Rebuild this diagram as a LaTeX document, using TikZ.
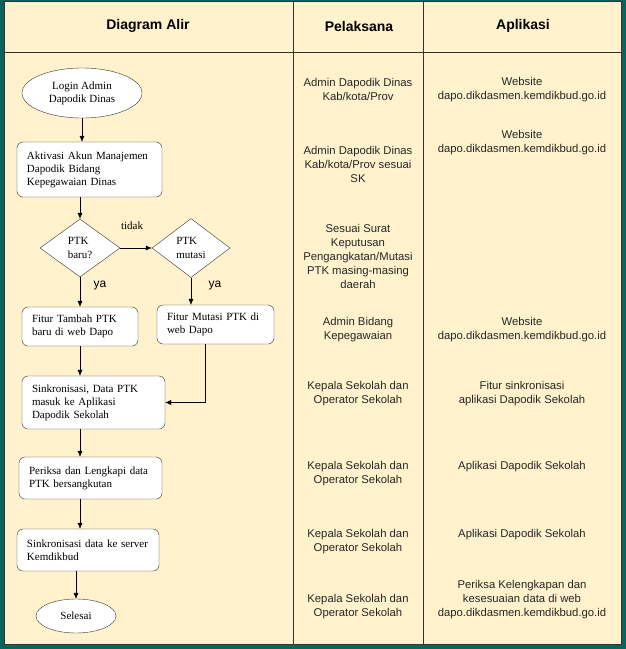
\documentclass[tikz,border=0pt]{standalone}
\usepackage{fontspec}
\setmainfont{Liberation Serif}
\setsansfont{Liberation Sans}
\usetikzlibrary{arrows, arrows.meta, shapes, positioning}

\definecolor{bingkai}{RGB}{14,98,92}
\definecolor{krem}{RGB}{255,242,204}

\begin{document}
\begin{tikzpicture}[x=1pt, y=-1pt,
    >={Latex[length=6pt,width=5pt]},
    proses/.style={draw=black!80, fill=white, rounded corners=6pt, align=left,
      inner xsep=10pt, inner ysep=3pt, font=\fontsize{11}{13}\selectfont},
    mulai/.style={ellipse, draw=black!80, fill=white, align=center, inner sep=0pt,
      font=\fontsize{11}{13}\selectfont},
    keputusan/.style={diamond, draw=black!80, fill=white, align=left, inner sep=0pt,
      font=\fontsize{11}{14}\selectfont},
    catatan/.style={font=\fontsize{11}{13}\selectfont},
    jawab/.style={font=\sffamily\fontsize{12}{14}\selectfont},
    judul/.style={font=\sffamily\bfseries\fontsize{14}{16}\selectfont},
    isi/.style={align=center, text=black!85, font=\sffamily\fontsize{11.3}{14}\selectfont},
    garis/.style={draw=black!80, line width=1pt}]

      % Table
      \useasboundingbox (0,0) rectangle (626,649);
      \fill[bingkai] (0,0) rectangle (626,649);
      \draw[garis, fill=krem] (4,1) rectangle (621,644);
      \draw[garis] (4,52) -- (621,52);
      \draw[garis] (293,1) -- (293,644);
      \draw[garis] (423,1) -- (423,644);

      % Header
      \node[judul] (hdiagram) at (148,26) {Diagram Alir};
      \node[judul] (hpelaksana) at (359,26) {Pelaksana};
      \node[judul] (haplikasi) at (523,26) {Aplikasi};

      % Nodes
      \node[mulai, minimum width=120pt, minimum height=50pt] (login) at (82,93) {Login Admin\\Dapodik Dinas};
      \node[proses, text width=125pt, minimum height=55pt] (aktivasi) at (89.5,169.5) {Aktivasi Akun Manajemen\\Dapodik Bidang\\Kepegawaian Dinas};
      \node[keputusan, minimum width=80pt, minimum height=58pt] (baru) at (80,248) {PTK\\baru?};
      \node[keputusan, minimum width=78pt, minimum height=59pt] (mutasi) at (191,248) {PTK\\mutasi};
      \node[proses, text width=96pt, minimum height=39pt] (tambah) at (80,326.5) {Fitur Tambah PTK\\baru di web Dapo};
      \node[proses, text width=97pt, minimum height=39pt] (fmutasi) at (215.5,324.5) {Fitur Mutasi PTK di\\web Dapo};
      \node[proses, text width=123pt, minimum height=53pt] (sinkron) at (93.5,402.5) {Sinkronisasi, Data PTK\\masuk ke Aplikasi\\Dapodik Sekolah};
      \node[proses, text width=123pt, minimum height=42pt] (periksa) at (90.5,478) {Periksa dan Lengkapi data\\PTK bersangkutan};
      \node[proses, text width=122pt, minimum height=42pt] (server) at (88,550) {Sinkronisasi data ke server\\Kemdikbud};
      \node[mulai, minimum width=80pt, minimum height=34pt] (selesai) at (76,616) {Selesai};

      \node[catatan] (tidak) at (132,226) {tidak};
      \node[jawab] (ya1) at (100,286) {ya};
      \node[jawab] (ya2) at (215,286) {ya};

      % Edges
      \draw[->] (login.south) -- (login.south |- aktivasi.north);
      \draw[->] (aktivasi.south -| baru) -- (baru.north);
      \draw[->] (baru.east) -- (mutasi.west);
      \draw[->] (baru.south) -- (baru.south |- tambah.north);
      \draw[->] (mutasi.south) -- (mutasi.south |- fmutasi.north);
      \draw[->] (tambah.south) -- (tambah.south |- sinkron.north);
      \draw[->] ([xshift=-10pt]fmutasi.south) |- (sinkron.east);
      \draw[->] (sinkron.south -| tambah) -- (periksa.north -| tambah);
      \draw[->] (periksa.south -| tambah) -- (server.north -| tambah);
      \draw[->] (server.south -| selesai) -- (selesai.north);

      % Pelaksana
      \node[isi] (p1) at (358,89.5) {Admin Dapodik Dinas\\Kab/kota/Prov};
      \node[isi] (p2) at (358,164) {Admin Dapodik Dinas\\Kab/kota/Prov sesuai\\SK};
      \node[isi] (p3) at (358,256.5) {Sesuai Surat\\Keputusan\\Pengangkatan/Mutasi\\PTK masing-masing\\daerah};
      \node[isi] (p4) at (358,330) {Admin Bidang\\Kepegawaian};
      \node[isi] (p5) at (358,394) {Kepala Sekolah dan\\Operator Sekolah};
      \node[isi] (p6) at (358,474) {Kepala Sekolah dan\\Operator Sekolah};
      \node[isi] (p7) at (358,541.5) {Kepala Sekolah dan\\Operator Sekolah};
      \node[isi] (p8) at (358,606.5) {Kepala Sekolah dan\\Operator Sekolah};

      % Aplikasi
      \node[isi] (a1) at (522,89.5) {Website\\dapo.dikdasmen.kemdikbud.go.id};
      \node[isi] (a2) at (522,143) {Website\\dapo.dikdasmen.kemdikbud.go.id};
      \node[isi] (a4) at (522,330) {Website\\dapo.dikdasmen.kemdikbud.go.id};
      \node[isi] (a5) at (522,394) {Fitur sinkronisasi\\aplikasi Dapodik Sekolah};
      \node[isi] (a6) at (522,467) {Aplikasi Dapodik Sekolah};
      \node[isi] (a7) at (522,535) {Aplikasi Dapodik Sekolah};
      \node[isi] (a8) at (522,600) {Periksa Kelengkapan dan\\kesesuaian data di web\\dapo.dikdasmen.kemdikbud.go.id};

    \end{tikzpicture}
\end{document}
